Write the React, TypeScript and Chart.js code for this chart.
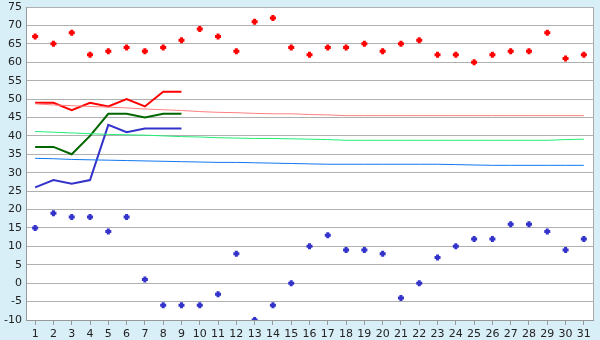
import React, { useEffect, useRef } from "react";
import { Chart, registerables } from "chart.js";

Chart.register(...registerables);

const dayLabels = ["1","2","3","4","5","6","7","8","9","10","11","12","13","14","15","16","17","18","19","20","21","22","23","24","25","26","27","28","29","30","31"];

const highPoints = [67,65,68,62,63,64,63,64,66,69,67,63,71,72,64,62,64,64,65,63,65,66,62,62,60,62,63,63,68,61,62];
const lowPoints = [15,19,18,18,14,18,1,-6,-6,-6,-3,8,-10,-6,0,10,13,9,9,8,-4,0,7,10,12,12,16,16,14,9,12];

const redLine = [49,49,47,49,48,50,48,52,52];
const greenLine = [37,37,35,40,46,46,45,46,46];
const blueLine = [26,28,27,28,43,41,42,42,42];

const pinkNormal = [48.7,48.4,48.2,48.0,47.8,47.6,47.3,47.1,46.9,46.6,46.4,46.3,46.1,46.0,46.0,45.8,45.7,45.5,45.5,45.5,45.5,45.5,45.5,45.5,45.5,45.5,45.5,45.5,45.5,45.5,45.5];
const greenNormal = [41.2,41.0,40.8,40.6,40.4,40.3,40.2,40.0,39.8,39.7,39.5,39.4,39.3,39.3,39.2,39.1,39.0,38.8,38.8,38.8,38.8,38.8,38.8,38.8,38.8,38.8,38.8,38.8,38.8,39.0,39.1];
const blueNormal = [33.9,33.8,33.6,33.5,33.4,33.3,33.2,33.1,33.0,32.9,32.8,32.8,32.7,32.6,32.5,32.4,32.3,32.3,32.3,32.3,32.3,32.3,32.3,32.2,32.1,32.0,32.0,32.0,32.0,32.0,32.0];

const bgPlugin = {
  id: "bgPlugin",
  beforeDraw(chart: any) {
    const { ctx, chartArea } = chart;
    ctx.save();
    ctx.fillStyle = "#d9eff7";
    ctx.fillRect(0, 0, chart.width, chart.height);
    ctx.fillStyle = "#ffffff";
    ctx.fillRect(chartArea.left, chartArea.top, chartArea.right - chartArea.left, chartArea.bottom - chartArea.top);
    ctx.restore();
  },
  afterDraw(chart: any) {
    const { ctx, chartArea } = chart;
    ctx.save();
    ctx.strokeStyle = "#aaaaaa";
    ctx.lineWidth = 1;
    ctx.beginPath();
    ctx.moveTo(Math.round(chartArea.right) + 0.5, chartArea.top);
    ctx.lineTo(Math.round(chartArea.right) + 0.5, chartArea.bottom);
    ctx.stroke();
    ctx.restore();
  },
};

export default function App() {
  const ref = useRef<HTMLCanvasElement>(null);
  useEffect(() => {
    if (!ref.current) return;
    const lineDs = (data: number[], color: string, width: number) => ({
      type: "line" as const,
      data,
      borderColor: color,
      backgroundColor: color,
      borderWidth: width,
      pointRadius: 0,
      tension: 0,
      fill: false,
    });
    const pointDs = (data: number[], color: string) => ({
      type: "line" as const,
      data,
      showLine: false,
      borderColor: color,
      backgroundColor: color,
      pointStyle: "cross",
      pointRadius: 3,
      pointBorderWidth: 3,
      pointBorderColor: color,
    });
    const chart = new Chart(ref.current, {
      type: "line",
      data: {
        labels: dayLabels,
        datasets: [
          lineDs(pinkNormal, "#ff8080", 1),
          lineDs(greenNormal, "#22ee77", 1),
          lineDs(blueNormal, "#1177ee", 1),
          lineDs(redLine, "#ff0000", 2),
          lineDs(greenLine, "#006600", 2),
          lineDs(blueLine, "#3333cc", 2),
          pointDs(highPoints, "#ff0000"),
          pointDs(lowPoints, "#3333cc"),
        ] as any,
      },
      options: {
        animation: false,
        responsive: false,
        maintainAspectRatio: false,
        layout: { padding: { top: 5, right: 5, left: 0, bottom: 0 } },
        plugins: { legend: { display: false }, tooltip: { enabled: false } },
        scales: {
          x: {
            type: "category",
            offset: true,
            grid: { display: true, drawOnChartArea: false, tickLength: 5, color: "#999999", offset: false },
            border: { display: true, color: "#999999" },
            ticks: { color: "#222222", font: { family: "DejaVu Sans", size: 11 }, padding: 3, maxRotation: 0, autoSkip: false },
            afterFit: (s: any) => { s.height = 20; s.paddingLeft = 0; s.paddingRight = 0; },
          },
          y: {
            min: -10,
            max: 75,
            ticks: { stepSize: 5, color: "#222222", font: { family: "DejaVu Sans", size: 11 }, padding: 4 },
            grid: { color: "#b0b0b0", drawTicks: false },
            border: { display: true, color: "#999999" },
            afterFit: (s: any) => { s.width = 26; s.paddingTop = 0; s.paddingBottom = 0; },
          },
        },
      },
      plugins: [bgPlugin],
    });
    return () => chart.destroy();
  }, []);
  return (
    <div style={{ position: "fixed", left: 0, top: 0, width: 600, height: 340 }}>
      <canvas ref={ref} width={600} height={340} style={{ width: 600, height: 340, display: "block" }} />
    </div>
  );
}
